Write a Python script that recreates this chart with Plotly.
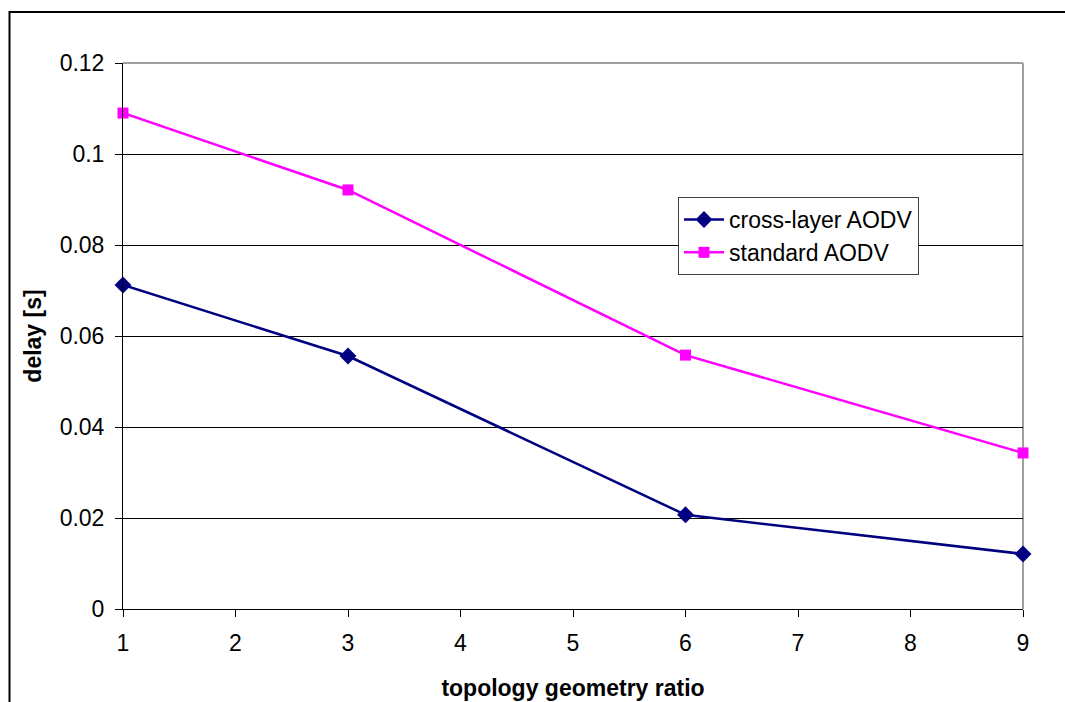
import plotly.graph_objects as go

ratio = [1, 3, 6, 9]
cross_layer = [0.0712, 0.0556, 0.0207, 0.0121]
standard = [0.1090, 0.0921, 0.0558, 0.0343]

fig = go.Figure()
fig.add_trace(go.Scatter(
    x=ratio, y=cross_layer, name="cross-layer AODV", mode="lines+markers",
    line=dict(color="#000080", width=2.5),
    marker=dict(symbol="diamond", size=13, color="#000080"),
    cliponaxis=False,
))
fig.add_trace(go.Scatter(
    x=ratio, y=standard, name="standard AODV", mode="lines+markers",
    line=dict(color="#FF00FF", width=2.5),
    marker=dict(symbol="square", size=11, color="#FF00FF"),
    cliponaxis=False,
))

family = "Liberation Sans, Arial, sans-serif"
font = dict(family=family, size=23, color="black")

fig.update_layout(
    width=1065, height=702,
    margin=dict(l=123, r=42, t=63, b=93, autoexpand=False),
    paper_bgcolor="white", plot_bgcolor="white",
    font=font,
    showlegend=True,
    legend=dict(
        x=(678 - 123) / 900, y=(609 - 197) / 546, xanchor="left", yanchor="top",
        bgcolor="white", bordercolor="#404040", borderwidth=1,
        font=dict(family=family, size=23),
        tracegroupgap=0, itemwidth=40,
    ),
    xaxis=dict(
        range=[1, 9], dtick=1, tick0=1, showgrid=False, zeroline=False,
        showline=True, linecolor="black", linewidth=1,
        ticks="outside", ticklen=7, tickcolor="black",
        ticklabelstandoff=6, automargin=False,
        title=dict(text="<b>topology geometry ratio</b>", standoff=25,
                   font=dict(size=23)),
    ),
    yaxis=dict(
        range=[0, 0.12], dtick=0.02, showgrid=True, gridcolor="black",
        gridwidth=1, zeroline=False,
        showline=True, linecolor="black", linewidth=1,
        ticks="outside", ticklen=7, tickcolor="black",
        ticklabelstandoff=6, automargin=False,
        title=dict(text="<b>delay [s]</b>", standoff=11, font=dict(size=23)),
    ),
    shapes=[
        # gray plot-area frame on top and right
        dict(type="line", xref="paper", yref="paper", x0=0, x1=1, y0=1, y1=1,
             line=dict(color="#a0a0a0", width=2), layer="above"),
        dict(type="line", xref="paper", yref="paper", x0=1, x1=1, y0=0, y1=1,
             line=dict(color="#a0a0a0", width=2), layer="below"),
        # outer chart border
        dict(type="rect", xref="paper", yref="paper",
             x0=(9.5 - 123) / 900, x1=(1080 - 123) / 900,
             y0=(609 - 720) / 546, y1=(609 - 12) / 546,
             line=dict(color="black", width=2), layer="below"),
    ],
)

fig.write_html("out.html")
